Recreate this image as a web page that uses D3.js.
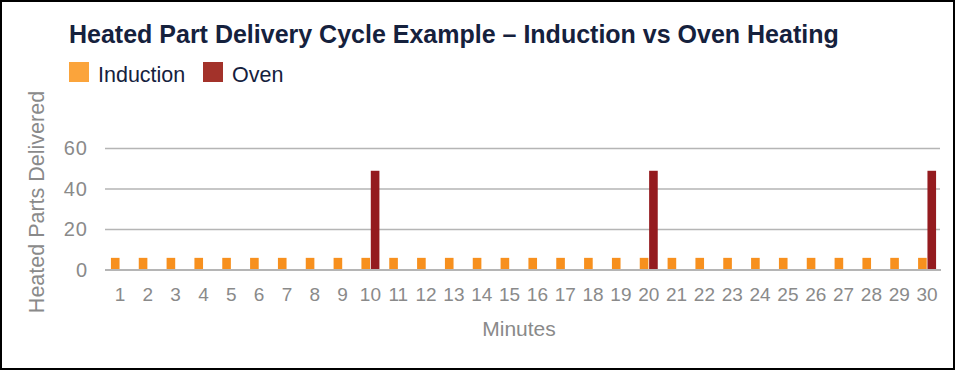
<!DOCTYPE html>
<html>
  <head>
    <title>Heated Part Delivery Cycle</title>
    <script src="https://d3js.org/d3.v7.min.js"></script>
    <style>
      body { margin: 0; }
      svg { display: block; }
    </style>
  </head>
  <body>
    <svg width="955" height="370" id="mainsvg"></svg>
    <script>
      // data
      const minutes = d3.range(1, 31);
      const seriesNames = ['Induction', 'Oven'];
      const induction = [6,6,6,6,6,6,6,6,6,6, 6,6,6,6,6,6,6,6,6,6, 6,6,6,6,6,6,6,6,6,6];
      const oven = [0,0,0,0,0,0,0,0,0,49, 0,0,0,0,0,0,0,0,0,49, 0,0,0,0,0,0,0,0,0,49];
      const yTicks = [0, 20, 40, 60];

      const barColors = {Induction: '#f7901e', Oven: '#941b1f'};
      const legendColors = {Induction: '#fba43b', Oven: '#a3322a'};
      const font = 'Liberation Sans, Arial, Helvetica, sans-serif';
      const grey = '#8a8a8a';
      const navy = '#15213d';

      const svg = d3.select('#mainsvg');
      const width = +svg.attr('width');
      const height = +svg.attr('height');

      svg.append('rect')
        .attr('x', 1).attr('y', 1)
        .attr('width', width - 2).attr('height', height - 2)
        .attr('fill', '#fff').attr('stroke', '#000').attr('stroke-width', 2);

      const x = d3.scaleBand()
        .domain(minutes)
        .range([106, 941])
        .paddingInner(0.3)
        .paddingOuter(0.15);

      const xSub = d3.scaleBand()
        .domain(seriesNames)
        .range([0, x.bandwidth()])
        .padding(0.08);

      const y = d3.scaleLinear()
        .domain([0, 60])
        .range([270, 148.5]);

      // gridlines
      svg.append('g').selectAll('line')
        .data(yTicks.filter(d => d > 0))
        .join('line')
        .attr('x1', 105).attr('x2', 940)
        .attr('y1', d => y(d)).attr('y2', d => y(d))
        .attr('stroke', '#b5b5b5').attr('stroke-width', 1.5);

      // y axis labels
      const yAxis = d3.axisLeft(y).tickValues(yTicks).tickSize(0).tickPadding(0);
      svg.append('g')
        .attr('transform', 'translate(88,0)')
        .call(yAxis)
        .call(g => g.select('.domain').remove())
        .selectAll('text')
        .attr('font-family', font).attr('font-size', 20).attr('letter-spacing', 1)
        .attr('fill', grey);

      // bars
      const rows = minutes.map((m, i) => ({minute: m, values: [
        {key: 'Induction', value: induction[i]},
        {key: 'Oven', value: oven[i]}
      ]}));

      svg.append('g').selectAll('g')
        .data(rows)
        .join('g')
        .attr('transform', d => `translate(${x(d.minute)},0)`)
        .selectAll('rect')
        .data(d => d.values.filter(v => v.value > 0))
        .join('rect')
        .attr('x', d => xSub(d.key))
        .attr('width', xSub.bandwidth())
        .attr('y', d => y(d.value))
        .attr('height', d => y(0) - y(d.value))
        .attr('fill', d => barColors[d.key]);

      // zero baseline
      svg.append('line')
        .attr('x1', 105).attr('x2', 941)
        .attr('y1', y(0)).attr('y2', y(0))
        .attr('stroke', '#b5b5b5').attr('stroke-width', 2);

      // x axis labels
      const xAxis = d3.axisBottom(x).tickSize(0).tickPadding(0);
      svg.append('g')
        .attr('transform', 'translate(0,287)')
        .call(xAxis)
        .call(g => g.select('.domain').remove())
        .selectAll('text')
        .attr('font-family', font).attr('font-size', 19).attr('fill', grey);

      // axis titles
      svg.append('text')
        .attr('x', 519).attr('y', 336)
        .attr('text-anchor', 'middle')
        .attr('font-family', font).attr('font-size', 21).attr('fill', grey)
        .text('Minutes');

      svg.append('text')
        .attr('transform', 'translate(44,202) rotate(-90)')
        .attr('text-anchor', 'middle')
        .attr('font-family', font).attr('font-size', 21.5).attr('fill', grey)
        .text('Heated Parts Delivered');

      // title
      svg.append('text')
        .attr('x', 69).attr('y', 43)
        .attr('font-family', font).attr('font-size', 25).attr('font-weight', 'bold')
        .attr('fill', navy)
        .text('Heated Part Delivery Cycle Example – Induction vs Oven Heating');

      // legend
      const legendX = [69, 203];
      const legend = svg.append('g').selectAll('g')
        .data(seriesNames)
        .join('g')
        .attr('transform', (d, i) => `translate(${legendX[i]},62)`);
      legend.append('rect')
        .attr('width', 20).attr('height', 20)
        .attr('fill', d => legendColors[d]);
      legend.append('text')
        .attr('x', 29).attr('y', 20)
        .attr('font-family', font).attr('font-size', 21.5).attr('fill', navy)
        .text(d => d);
    </script>
  </body>
</html>
